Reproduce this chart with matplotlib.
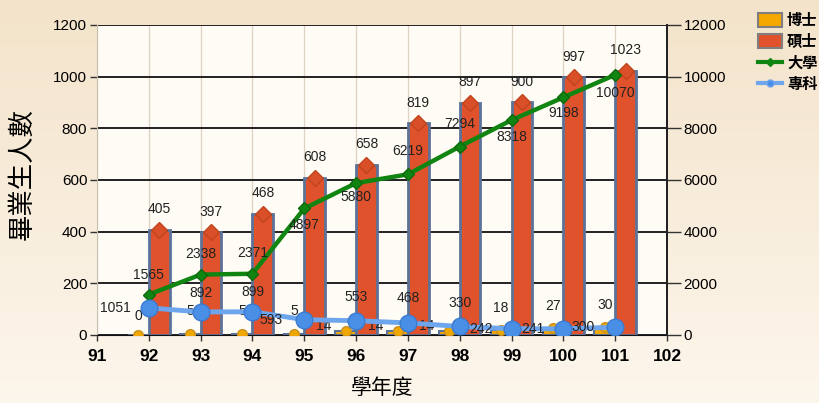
import numpy as np
import matplotlib
matplotlib.use("Agg")
import matplotlib.pyplot as plt
from matplotlib.patches import Patch
from matplotlib.lines import Line2D

plt.rcParams['font.family'] = ['Liberation Sans Narrow', 'Liberation Sans', 'Noto Sans CJK TC', 'DejaVu Sans']

years = [92, 93, 94, 95, 96, 97, 98, 99, 100, 101]
phd = [0, 5, 5, 5, 14, 14, 14, 18, 27, 30]            # 博士 (left axis)
master = [405, 397, 468, 608, 658, 819, 897, 900, 997, 1023]  # 碩士 (left axis)
univ = [1565, 2338, 2371, 4897, 5880, 6219, 7294, 8318, 9198, 10070]  # 大學 (right axis)
college = [1051, 892, 899, 593, 553, 468, 330, 242, 241, 300]  # 專科 (right axis)
xticks = list(range(91, 103))
left_ticks = [0, 200, 400, 600, 800, 1000, 1200]
right_ticks = [0, 2000, 4000, 6000, 8000, 10000, 12000]

# label placement styles (offsets in points)
univ_off = [(0, 14), (0, 15), (0, 15), (0, -12), (0, -10), (0, 17), (0, 16), (0, -12), (0, -11), (0, -13)]
coll_off = [(-24, 0), (0, 14), (0, 14), (-24, 0), (0, 17), (0, 18), (0, 17), (-22, 0), (-22, 0), (-23, 0)]
phd_off = [(0, 14), (0, 16), (0, 16), (0, 16), (-16, 4), (-16, 4), (-16, 4), (0, 16), (0, 16), (0, 16)]

W, H = 820, 403
fig = plt.figure(figsize=(W / 100, H / 100), dpi=100)

# background gradient
bg = fig.add_axes([0, 0, 1, 1], zorder=-10)
grad = np.linspace(0, 1, 256)[:, None]
top = np.array([0.953, 0.890, 0.792])
bot = np.array([0.992, 0.965, 0.925])
img = top[None, None, :] * (1 - grad[:, :, None]) + bot[None, None, :] * grad[:, :, None]
img = np.repeat(img, 4, axis=1)
bg.imshow(img, aspect='auto', extent=[0, 1, 0, 1])
bg.set_axis_off()

L, R, B, T = 97 / W, 667 / W, 1 - 335 / H, 1 - 25 / H
ax = fig.add_axes([L, B, R - L, T - B])
ax.set_facecolor('#fffcf5')
ax.set_xlim(91, 102)
ax.set_ylim(0, 1200)
ax.set_xticks(xticks)
ax.set_yticks(left_ticks)
ax.set_yticklabels([str(v) for v in left_ticks], fontsize=11)
ax.set_xticklabels([str(v) for v in xticks], fontsize=12.5, fontweight='bold')

for y in left_ticks:
    ax.axhline(y, color='#111111', lw=1.3, zorder=1)
for xv in xticks:
    ax.axvline(xv, color='#ddd3c4', lw=0.9, zorder=0.5)

ax.spines['top'].set_visible(False)
ax.spines['left'].set_color('#c8c0b0')
ax.spines['right'].set_color('#222222')
ax.spines['right'].set_linewidth(1.3)
ax.spines['bottom'].set_color('#111111')
ax.tick_params(axis='y', length=5, width=1, color='#333333', pad=2)
ax.tick_params(axis='x', length=4, width=1, color='#333333', pad=6)

x = np.array(years, dtype=float)
ax.bar(x - 0.4, phd, width=0.4, align='edge', color='#f5a800', edgecolor='#5b7399', lw=1.5, zorder=2)
ax.bar(x, master, width=0.4, align='edge', color='#e0522b', edgecolor='#5b7399', lw=2.0, zorder=2)
ax.plot(x + 0.2, master, ls='none', marker='D', ms=8, mfc='#d94f27', mec='#c0441c', zorder=3)
ax.plot(x - 0.2, phd, ls='none', marker='o', ms=7, mfc='#f0a800', mec='#c89020', zorder=3)

for xi, v in zip(x, master):
    ax.annotate(str(v), (xi + 0.2, v), xytext=(0, 10), textcoords='offset points',
                ha='center', va='bottom', fontsize=10, color='#222222', zorder=6)
for xi, v, off in zip(x, phd, phd_off):
    ax.annotate(str(v), (xi - 0.2, v), xytext=off, textcoords='offset points',
                ha='center', va='center', fontsize=10, color='#222222', zorder=6)

ax.set_ylabel('畢業生人數', fontsize=19, family=['Noto Sans CJK TC'], fontweight='normal')
ax.yaxis.set_label_coords(-0.108, 0.52)
ax.set_xlabel('學年度', fontsize=15, family=['Noto Sans CJK TC'])
ax.xaxis.set_label_coords(0.5, -0.135)

ax2 = ax.twinx()
ax2.set_ylim(0, 12000)
ax2.set_yticks(right_ticks)
ax2.set_yticklabels([str(v) for v in right_ticks], fontsize=11)
ax2.tick_params(axis='y', length=10, width=1, color='#333333', pad=2)
for s in ['top', 'left', 'bottom']:
    ax2.spines[s].set_visible(False)
ax2.spines['right'].set_color('#222222')
ax2.spines['right'].set_linewidth(1.3)

ax2.plot(x, univ, color='#118511', lw=3.2, marker='D', ms=6, mfc='#118511', mec='#0d6a0d', zorder=4)
ax2.plot(x, college, color='#6ea6ee', lw=3.5, marker='o', ms=12, mfc='#4a8fe6', mec='#3b7bd0', zorder=5)

for xi, v, off in zip(x, univ, univ_off):
    ax2.annotate(str(v), (xi, v), xytext=off, textcoords='offset points',
                 ha='center', va='center', fontsize=10, color='#222222', zorder=6)
for xi, v, off in zip(x, college, coll_off):
    ax2.annotate(str(v), (xi, v), xytext=off, textcoords='offset points',
                 ha='center', va='center', fontsize=10, color='#222222', zorder=6)

handles = [
    Patch(facecolor='#f5a800', edgecolor='#7f7f7f', lw=1.5, label='博士'),
    Patch(facecolor='#e0522b', edgecolor='#7f7f7f', lw=1.5, label='碩士'),
    Line2D([0], [0], color='#118511', lw=3, marker='D', ms=4, label='大學'),
    Line2D([0], [0], color='#6ea6ee', lw=3, marker='o', ms=5, mfc='#4a8fe6', label='專科'),
]
leg = fig.legend(handles=handles, loc='upper left', bbox_to_anchor=(758 / W, 1 - 12 / H),
                 frameon=False, handlelength=1.6, handleheight=1.0, handletextpad=0.3,
                 labelspacing=0.35, borderaxespad=0, borderpad=0,
                 prop={'family': ['Noto Sans CJK TC'], 'weight': 'bold', 'size': 11})

fig.savefig('out.png', dpi=100)
